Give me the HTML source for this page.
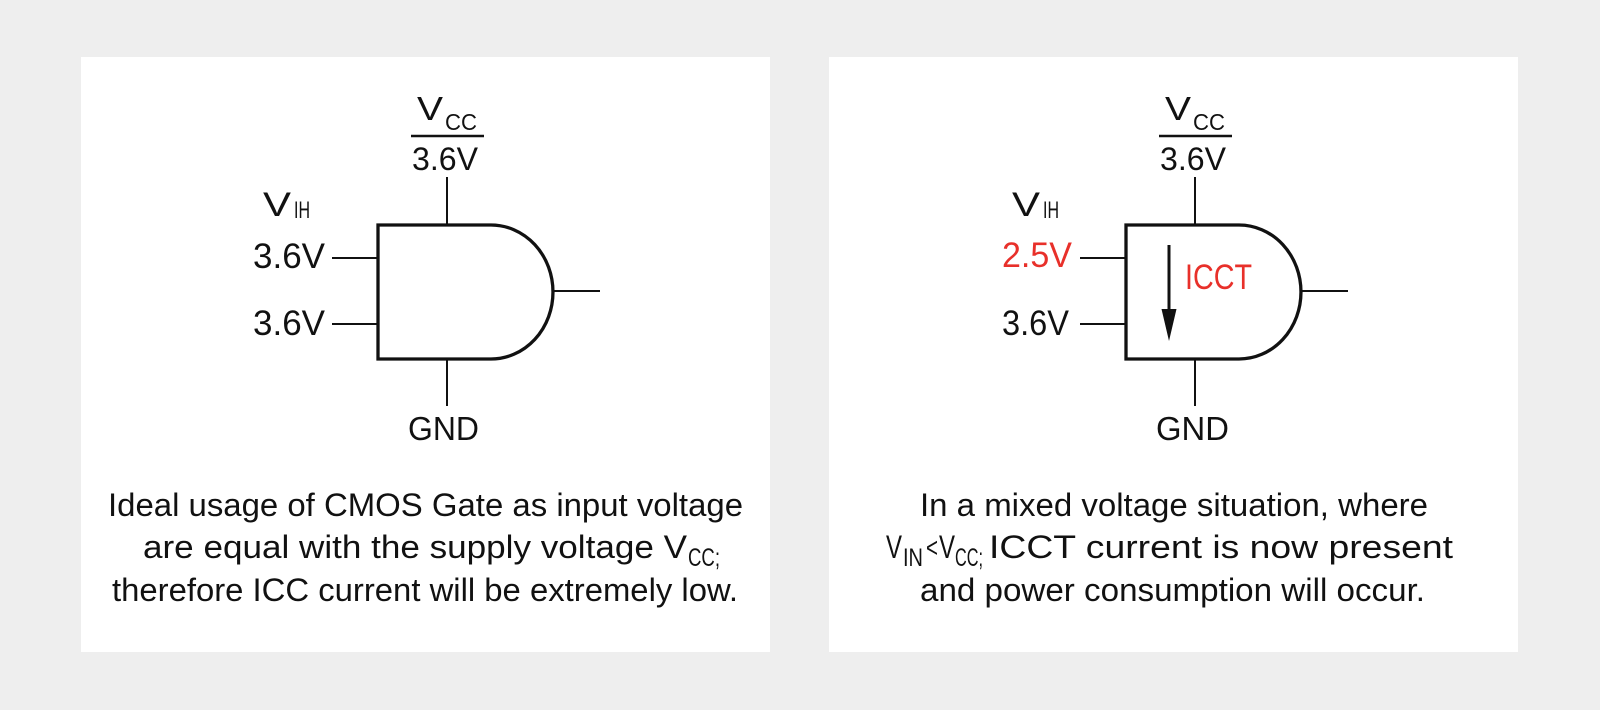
<!DOCTYPE html>
<html>
<head>
<meta charset="utf-8">
<style>
  html, body { margin: 0; padding: 0; background: #eeeeee; }
  body { width: 1600px; height: 710px; overflow: hidden; }
  svg { display: block; }
  text { font-family: "Liberation Sans", sans-serif; fill: #111; }
</style>
</head>
<body>
<svg width="1600" height="710" viewBox="0 0 1600 710" xmlns="http://www.w3.org/2000/svg">
  <rect x="0" y="0" width="1600" height="710" fill="#eeeeee"/>
  <rect x="81" y="57" width="689" height="595" fill="#ffffff"/>
  <rect x="829" y="57" width="689" height="595" fill="#ffffff"/>

  <!-- ===== LEFT DIAGRAM ===== -->
  <g id="gateL">
    <text x="417" y="120" font-size="33" textLength="26" lengthAdjust="spacingAndGlyphs">V</text>
    <text x="445" y="130" font-size="23" textLength="32" lengthAdjust="spacingAndGlyphs">CC</text>
    <line x1="411" y1="136" x2="484" y2="136" stroke="#111" stroke-width="2.5"/>
    <text x="412" y="170" font-size="32.5" textLength="66" lengthAdjust="spacingAndGlyphs">3.6V</text>
    <line x1="447" y1="177" x2="447" y2="225" stroke="#111" stroke-width="2"/>
    <path d="M378,225 H491 A62,67 0 0 1 491,359 H378 Z" fill="none" stroke="#111" stroke-width="3.3"/>
    <line x1="553" y1="291" x2="600" y2="291" stroke="#111" stroke-width="2"/>
    <line x1="332" y1="258" x2="378" y2="258" stroke="#111" stroke-width="2"/>
    <line x1="332" y1="324" x2="378" y2="324" stroke="#111" stroke-width="2"/>
    <line x1="447" y1="359" x2="447" y2="406" stroke="#111" stroke-width="2"/>
    <text x="408" y="440" font-size="33" textLength="71" lengthAdjust="spacingAndGlyphs">GND</text>
  </g>
  <!-- V_IH left -->
  <text x="263" y="216" font-size="34" textLength="28" lengthAdjust="spacingAndGlyphs">V</text>
  <text x="294" y="218" font-size="24" textLength="16" lengthAdjust="spacingAndGlyphs">IH</text>
  <!-- input labels left -->
  <text x="253" y="268" font-size="35" textLength="72" lengthAdjust="spacingAndGlyphs">3.6V</text>
  <text x="253" y="335" font-size="35" textLength="72" lengthAdjust="spacingAndGlyphs">3.6V</text>

  <!-- Left caption -->
  <text x="108" y="516" font-size="32" textLength="635" lengthAdjust="spacingAndGlyphs">Ideal usage of CMOS Gate as input voltage</text>
  <text x="143" y="558" font-size="32" textLength="544" lengthAdjust="spacingAndGlyphs">are equal with the supply voltage V</text>
  <text x="688" y="566" font-size="25" textLength="32" lengthAdjust="spacingAndGlyphs">CC;</text>
  <text x="112" y="601" font-size="32" textLength="626" lengthAdjust="spacingAndGlyphs">therefore ICC current will be extremely low.</text>

  <!-- ===== RIGHT DIAGRAM ===== -->
  <g transform="translate(748,0)">
    <text x="417" y="120" font-size="33" textLength="26" lengthAdjust="spacingAndGlyphs">V</text>
    <text x="445" y="130" font-size="23" textLength="32" lengthAdjust="spacingAndGlyphs">CC</text>
    <line x1="411" y1="136" x2="484" y2="136" stroke="#111" stroke-width="2.5"/>
    <text x="412" y="170" font-size="32.5" textLength="66" lengthAdjust="spacingAndGlyphs">3.6V</text>
    <line x1="447" y1="177" x2="447" y2="225" stroke="#111" stroke-width="2"/>
    <path d="M378,225 H491 A62,67 0 0 1 491,359 H378 Z" fill="none" stroke="#111" stroke-width="3.3"/>
    <line x1="553" y1="291" x2="600" y2="291" stroke="#111" stroke-width="2"/>
    <line x1="332" y1="258" x2="378" y2="258" stroke="#111" stroke-width="2"/>
    <line x1="332" y1="324" x2="378" y2="324" stroke="#111" stroke-width="2"/>
    <line x1="447" y1="359" x2="447" y2="406" stroke="#111" stroke-width="2"/>
    <text x="408" y="440" font-size="33" textLength="73" lengthAdjust="spacingAndGlyphs">GND</text>
  </g>
  <!-- V_IH right -->
  <text x="1012" y="216" font-size="34" textLength="28" lengthAdjust="spacingAndGlyphs">V</text>
  <text x="1043" y="218" font-size="24" textLength="16" lengthAdjust="spacingAndGlyphs">IH</text>
  <!-- input labels right -->
  <text x="1002" y="267" font-size="35" textLength="70" lengthAdjust="spacingAndGlyphs" style="fill:#e8302a">2.5V</text>
  <text x="1002" y="335" font-size="35" textLength="67" lengthAdjust="spacingAndGlyphs">3.6V</text>
  <!-- ICCT arrow -->
  <line x1="1169" y1="245" x2="1169" y2="312" stroke="#111" stroke-width="3"/>
  <polygon points="1161.5,309 1176.5,309 1169,341" fill="#111"/>
  <text x="1185" y="289" font-size="35" textLength="67" lengthAdjust="spacingAndGlyphs" style="fill:#e8302a">ICCT</text>

  <!-- Right caption -->
  <text x="920" y="516" font-size="32" textLength="508" lengthAdjust="spacingAndGlyphs">In a mixed voltage situation, where</text>
  <text x="886" y="558" font-size="32" textLength="16" lengthAdjust="spacingAndGlyphs">V</text>
  <text x="903" y="566" font-size="25" textLength="20" lengthAdjust="spacingAndGlyphs">IN</text>
  <text x="926" y="557" font-size="28" textLength="12" lengthAdjust="spacingAndGlyphs">&lt;</text>
  <text x="939" y="558" font-size="32" textLength="16" lengthAdjust="spacingAndGlyphs">V</text>
  <text x="955" y="566" font-size="25" textLength="28" lengthAdjust="spacingAndGlyphs">CC;</text>
  <text x="989" y="558" font-size="32" textLength="464" lengthAdjust="spacingAndGlyphs">ICCT current is now present</text>
  <text x="920" y="601" font-size="32" textLength="505" lengthAdjust="spacingAndGlyphs">and power consumption will occur.</text>
</svg>
</body>
</html>
